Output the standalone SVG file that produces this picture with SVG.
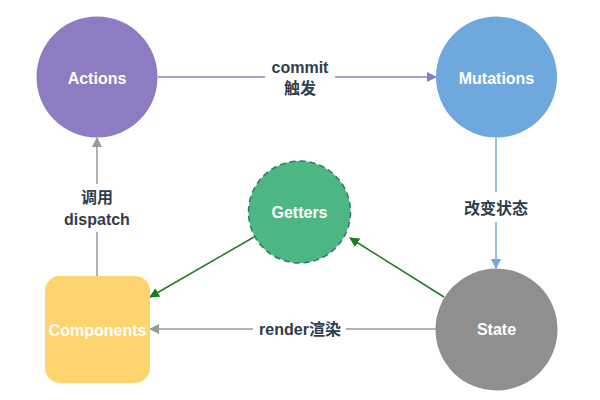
<svg xmlns="http://www.w3.org/2000/svg" width="600" height="400" viewBox="0 0 600 400">
<defs>
<style>
.node{font-family:"Liberation Sans","Noto Sans CJK SC",sans-serif;font-weight:bold;font-size:16px;fill:#fff;text-anchor:middle;dominant-baseline:central}
.lbl{font-family:"Liberation Sans","Noto Sans CJK SC",sans-serif;font-weight:bold;font-size:16px;fill:#2f3d4c;text-anchor:middle;dominant-baseline:central}
.ln{fill:none;stroke-width:1.5}
</style>
<marker id="mp" markerWidth="10" markerHeight="10" refX="9" refY="5" orient="auto" markerUnits="userSpaceOnUse"><path d="M0,0 L10,5 L0,10 z" fill="#8e7cc3"/></marker>
<marker id="mg" markerWidth="10" markerHeight="10" refX="9" refY="5" orient="auto" markerUnits="userSpaceOnUse"><path d="M0,0 L10,5 L0,10 z" fill="#999"/></marker>
<marker id="mb" markerWidth="10" markerHeight="10" refX="9" refY="5" orient="auto" markerUnits="userSpaceOnUse"><path d="M0,0 L10,5 L0,10 z" fill="#6fa8dc"/></marker>
<marker id="mgr" markerWidth="10" markerHeight="10" refX="9" refY="5" orient="auto" markerUnits="userSpaceOnUse"><path d="M0,0 L10,5 L0,10 z" fill="#1e7a1e"/></marker>
</defs>
<rect width="600" height="400" fill="#fff"/>
<g id="connectors">
<path class="ln" d="M158,77 H265" stroke="#8e7cc3"/>
<path class="ln" d="M335,77 H436" stroke="#8e7cc3" marker-end="url(#mp)"/>
<text class="lbl" x="300" y="67">commit</text>
<text class="lbl" x="300" y="88">触发</text>
<path class="ln" d="M97,276 V232" stroke="#999"/>
<path class="ln" d="M97,184 V138" stroke="#999" marker-end="url(#mg)"/>
<text class="lbl" x="97" y="197">调用</text>
<text class="lbl" x="97" y="219">dispatch</text>
<path class="ln" d="M496,138 V192" stroke="#6fa8dc"/>
<path class="ln" d="M496,222 V268" stroke="#6fa8dc" marker-end="url(#mb)"/>
<text class="lbl" x="496" y="208">改变状态</text>
<path class="ln" d="M436,329 H346" stroke="#999"/>
<path class="ln" d="M253,329 H150" stroke="#999" marker-end="url(#mg)"/>
<text class="lbl" x="300" y="329">render渲染</text>
<path class="ln" d="M444,297 L350,238" stroke="#1e7a1e" marker-end="url(#mgr)"/>
<path class="ln" d="M254,237 L150,297" stroke="#1e7a1e" marker-end="url(#mgr)"/>
</g>
<g id="actions"><circle cx="97" cy="77" r="60.5" fill="#8e7cc3"/><text class="node" x="97" y="78">Actions</text></g>
<g id="mutations"><circle cx="496.5" cy="77" r="60.5" fill="#6fa8dc"/><text class="node" x="496.5" y="78">Mutations</text></g>
<g id="getters"><circle cx="299.5" cy="212" r="51" fill="#4cb782" stroke="#2f7a68" stroke-width="1.5" stroke-dasharray="6,4"/><text class="node" x="299.5" y="212">Getters</text></g>
<g id="components"><rect x="45" y="276" width="105" height="107" rx="15" fill="#fdd46e"/><text class="node" x="97.5" y="330">Components</text></g>
<g id="state"><circle cx="496.5" cy="329.5" r="61" fill="#8f8f8f"/><text class="node" x="496.5" y="329">State</text></g>
</svg>
